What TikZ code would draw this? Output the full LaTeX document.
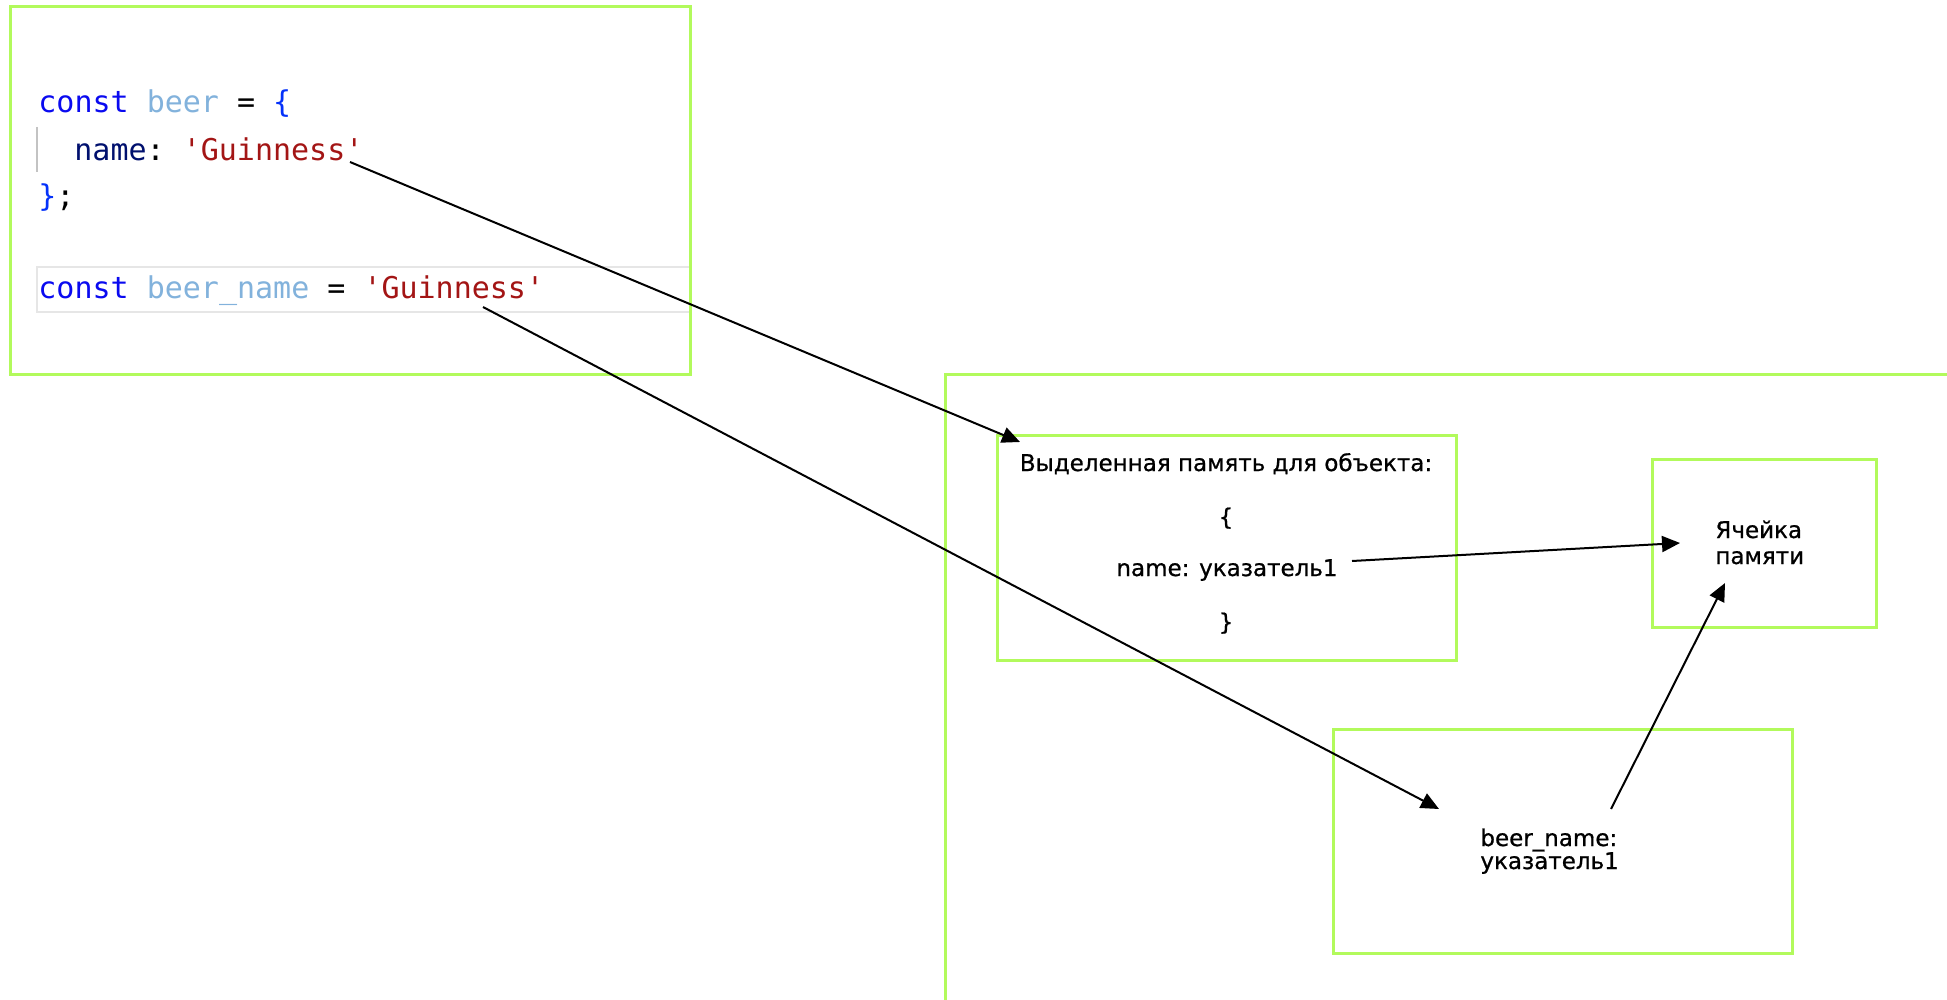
\documentclass[tikz,border=0pt]{standalone}
\usepackage{fontspec}
\setmonofont{DejaVu Sans Mono}
\newfontfamily\lab[FakeBold=0.8]{DejaVu Sans}
\usetikzlibrary{arrows.meta}
\definecolor{gr}{RGB}{178,250,92}
\definecolor{kw}{RGB}{10,10,240}
\definecolor{var}{RGB}{130,178,220}
\definecolor{prop}{RGB}{0,16,110}
\definecolor{str}{RGB}{163,21,21}
\definecolor{brc}{RGB}{4,49,250}
\definecolor{hl}{RGB}{230,230,230}
\begin{document}
\begin{tikzpicture}[x=0.5pt,y=-0.5pt,
  gbox/.style={draw=gr, line width=1.5pt, inner sep=0pt},
  codetxt/.style={anchor=base west, inner sep=0pt, font=\ttfamily\fontsize{15}{18}\selectfont},
  lbl/.style={inner sep=0pt, font=\lab\fontsize{11.5}{13}\selectfont},
  arr/.style={line width=1pt, -{Triangle[length=9pt,width=8pt]}}]
\fill[white] (0,0) rectangle (1947,1000);
\useasboundingbox (0,0) rectangle (1947,1000);

% code panel
\node[draw=hl, line width=1.2pt, minimum width=326.5pt, minimum height=22.5pt, inner sep=0pt] (hlbox) at (363.5,289.5) {};
\draw[draw=hl!85!black, line width=0.6pt] (37,127) coordinate (g1) -- (37,172) coordinate (g2);
\node[gbox, minimum width=340pt, minimum height=183.5pt] (code) at (350,190.5) {};
\node[codetxt] (c1) at (38,113) {\textcolor{kw}{const} \textcolor{var}{beer} = \textcolor{brc}{\{}};
\node[codetxt] (c2) at (74,161) {\textcolor{prop}{name}: \textcolor{str}{'Guinness'}};
\node[codetxt] (c3) at (38,206) {\textcolor{brc}{\}};};
\node[codetxt] (c4) at (38,298) {\textcolor{kw}{const} \textcolor{var}{beer\_name} = \textcolor{str}{'Guinness'}};

% memory panel
\draw[gr, line width=1.5pt] (1947,374) coordinate (m1) -- (945,374) coordinate (m2) -- (945,1000) coordinate (m3);
\node[gbox, minimum width=229.5pt, minimum height=112.5pt] (boxA) at (1226.5,547.5) {};
\node[gbox, minimum width=112pt, minimum height=84pt] (boxB) at (1764,543) {};
\node[gbox, minimum width=229.5pt, minimum height=112pt] (boxC) at (1562.5,841) {};

\node[lbl, anchor=base] (tA) at (1226,471) {Выделенная память для объекта:};
\node[lbl, anchor=base] (ob) at (1226,525) {\{};
\node[lbl, anchor=base] (nm) at (1227,576) {name: указатель1};
\node[lbl, anchor=base] (cb) at (1226,630) {\}};
\node[lbl, anchor=base west] (b1) at (1715,538) {Ячейка};
\node[lbl, anchor=base west] (b2) at (1715,564) {памяти};
\node[lbl, anchor=base west] (p1) at (1480,846) {beer\_name:};
\node[lbl, anchor=base west] (p2) at (1480,869) {указатель1};

% connectors
\coordinate (a1s) at (350,162);
\coordinate (a1e) at (1020,442);
\coordinate (a2s) at (483,307);
\coordinate (a2e) at (1439,809);
\coordinate (a3s) at (1352,561);
\coordinate (a3e) at (1680,543);
\coordinate (a4s) at (1611,809);
\coordinate (a4e) at (1725,583);
\draw[arr] (a1s) -- (a1e);
\draw[arr] (a2s) -- (a2e);
\draw[arr] (a3s) -- (a3e);
\draw[arr] (a4s) -- (a4e);
\end{tikzpicture}
\end{document}
